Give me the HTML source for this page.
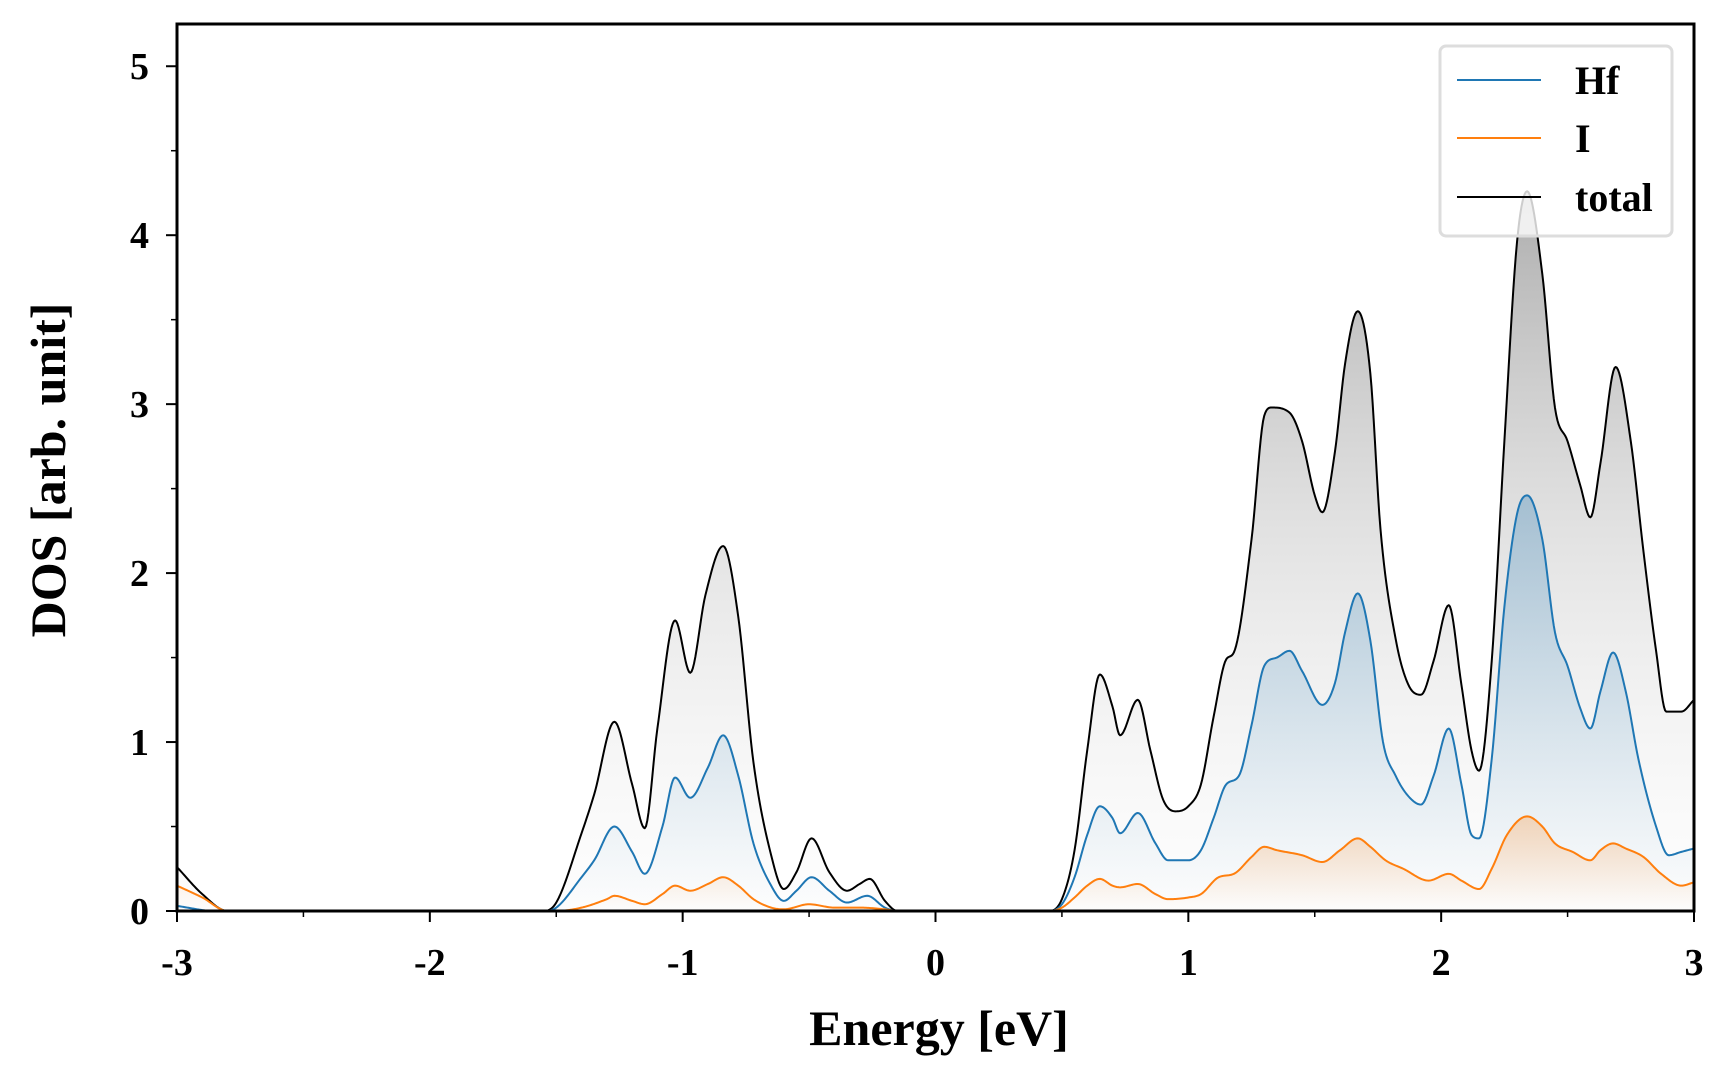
<!DOCTYPE html>
<html><head><meta charset="utf-8"><style>
html,body{margin:0;padding:0;background:#fff}
svg{display:block}
text{font-family:"Liberation Serif",serif;font-weight:bold;fill:#000}
</style></head><body>
<svg id="chart" width="1728" height="1080" xmlns="http://www.w3.org/2000/svg">
<defs>
<linearGradient id="gTot" gradientUnits="userSpaceOnUse" x1="0" y1="193" x2="0" y2="911"><stop offset="0" stop-color="#999" stop-opacity="0.8"/><stop offset="1" stop-color="#eee" stop-opacity="0.1"/></linearGradient>
<linearGradient id="gHf" gradientUnits="userSpaceOnUse" x1="0" y1="497" x2="0" y2="911"><stop offset="0" stop-color="#1f77b4" stop-opacity="0.3"/><stop offset="1" stop-color="#1f77b4" stop-opacity="0.0"/></linearGradient>
<linearGradient id="gI" gradientUnits="userSpaceOnUse" x1="0" y1="820" x2="0" y2="911"><stop offset="0" stop-color="#ff7f0e" stop-opacity="0.25"/><stop offset="1" stop-color="#ff7f0e" stop-opacity="0.0"/></linearGradient>
<clipPath id="plotClip"><rect x="177" y="24" width="1517" height="887"/></clipPath>
</defs>
<g id="fills" clip-path="url(#plotClip)"></g>
<g id="lines" clip-path="url(#plotClip)"></g>
<g id="axes"></g>
<g id="legend">
<rect x="1440" y="46" width="232" height="190" rx="6" fill="#fff" fill-opacity="0.8" stroke="#ddd" stroke-width="3"/>
<line x1="1457" y1="80" x2="1541" y2="80" stroke="#1f77b4" stroke-width="2"/>
<text x="1575" y="94" font-size="40">Hf</text>
<line x1="1457" y1="138" x2="1541" y2="138" stroke="#ff7f0e" stroke-width="2"/>
<text x="1575" y="152" font-size="40">I</text>
<line x1="1457" y1="197" x2="1541" y2="197" stroke="#000" stroke-width="2"/>
<text x="1575" y="211" font-size="40">total</text>
</g>
<text x="939" y="1045" font-size="50" text-anchor="middle">Energy [eV]</text>
<text x="0" y="0" font-size="50" text-anchor="middle" transform="translate(65,470) rotate(-90)">DOS [arb. unit]</text>
</svg>
<script>
const totE=[-3,-2.9,-2.8,-1.55,-1.5,-1.4,-1.35,-1.27,-1.2,-1.15,-1.1,-1.03,-0.97,-0.91,-0.84,-0.78,-0.72,-0.65,-0.6,-0.55,-0.49,-0.42,-0.35,-0.3,-0.26,-0.2,-0.15,0.45,0.5,0.55,0.6,0.65,0.7,0.73,0.8,0.85,0.9,0.95,1.0,1.05,1.1,1.15,1.18,1.25,1.3,1.33,1.4,1.45,1.5,1.53,1.58,1.62,1.67,1.72,1.76,1.82,1.87,1.92,1.97,2.03,2.08,2.12,2.15,2.2,2.25,2.3,2.34,2.4,2.45,2.5,2.55,2.59,2.63,2.69,2.75,2.8,2.85,2.89,2.95,3.0];
const totV=[0.26,0.1,0,0,0.05,0.46,0.69,1.12,0.75,0.49,1.08,1.72,1.41,1.87,2.16,1.74,0.88,0.33,0.13,0.23,0.43,0.23,0.12,0.16,0.19,0.06,0,0,0.07,0.36,0.95,1.4,1.21,1.04,1.25,0.95,0.66,0.59,0.62,0.75,1.15,1.49,1.53,2.2,2.93,2.98,2.95,2.78,2.46,2.36,2.72,3.24,3.55,3.18,2.26,1.61,1.34,1.28,1.48,1.81,1.34,0.95,0.83,1.48,2.78,3.96,4.26,3.77,2.98,2.78,2.52,2.33,2.65,3.22,2.78,2.13,1.54,1.18,1.18,1.25];
const hfE=[-3,-2.85,-1.55,-1.5,-1.4,-1.35,-1.27,-1.2,-1.15,-1.08,-1.03,-0.97,-0.9,-0.84,-0.78,-0.72,-0.65,-0.6,-0.55,-0.49,-0.42,-0.35,-0.27,-0.2,-0.15,0.45,0.5,0.55,0.6,0.65,0.7,0.73,0.8,0.87,0.92,1.0,1.05,1.1,1.15,1.2,1.25,1.3,1.35,1.4,1.45,1.53,1.58,1.62,1.67,1.72,1.77,1.82,1.87,1.92,1.97,2.03,2.08,2.12,2.15,2.2,2.25,2.3,2.34,2.4,2.45,2.5,2.55,2.59,2.63,2.68,2.73,2.78,2.85,2.9,2.95,3.0];
const hfV=[0.03,0,0,0.02,0.2,0.3,0.5,0.35,0.22,0.5,0.79,0.67,0.85,1.04,0.8,0.4,0.15,0.06,0.12,0.2,0.12,0.05,0.09,0.02,0,0,0.04,0.2,0.45,0.62,0.55,0.46,0.58,0.4,0.3,0.3,0.36,0.55,0.75,0.8,1.1,1.45,1.5,1.54,1.42,1.22,1.35,1.65,1.88,1.6,1.0,0.8,0.68,0.63,0.8,1.08,0.75,0.45,0.43,0.9,1.8,2.35,2.46,2.2,1.65,1.45,1.2,1.08,1.3,1.53,1.3,0.9,0.5,0.33,0.35,0.37];
const iE=[-3,-2.9,-2.8,-1.5,-1.4,-1.3,-1.27,-1.2,-1.15,-1.08,-1.03,-0.97,-0.9,-0.84,-0.78,-0.72,-0.65,-0.6,-0.5,-0.4,-0.3,-0.2,-0.15,0.45,0.5,0.55,0.6,0.65,0.7,0.73,0.8,0.87,0.92,1.0,1.05,1.12,1.18,1.25,1.3,1.35,1.45,1.53,1.6,1.67,1.72,1.78,1.85,1.95,2.03,2.08,2.15,2.2,2.26,2.34,2.4,2.45,2.52,2.59,2.63,2.68,2.73,2.8,2.87,2.95,3.0];
const iV=[0.15,0.08,0,0,0.02,0.07,0.09,0.06,0.04,0.1,0.15,0.12,0.16,0.2,0.15,0.07,0.02,0.01,0.04,0.02,0.02,0.01,0,0,0.02,0.08,0.15,0.19,0.15,0.14,0.16,0.1,0.07,0.08,0.1,0.2,0.22,0.32,0.38,0.36,0.33,0.29,0.36,0.43,0.38,0.3,0.25,0.18,0.22,0.18,0.13,0.25,0.45,0.56,0.5,0.4,0.35,0.3,0.36,0.4,0.37,0.32,0.22,0.15,0.17];
const xTicks=[-3,-2,-1,0,1,2,3];
const xTickLabels=["-3","-2","-1","0","1","2","3"];
const yTicks=[0,1,2,3,4,5];
const yTickLabels=["0","1","2","3","4","5"];

const X0=177,X1=1694,Y0=911,Y1=24,XMIN=-3,XMAX=3,YMIN=0,YMAX=5.25;
function sx(v){return X0+(v-XMIN)/(XMAX-XMIN)*(X1-X0);}
function sy(v){return Y0-(v-YMIN)/(YMAX-YMIN)*(Y0-Y1);}
const NS='http://www.w3.org/2000/svg';
function smooth(E,V){
  const n=E.length,d=[],m=new Array(n);
  for(let i=0;i<n-1;i++)d.push((V[i+1]-V[i])/(E[i+1]-E[i]));
  m[0]=d[0];m[n-1]=d[n-2];
  for(let i=1;i<n-1;i++){m[i]=(d[i-1]*d[i]<=0)?0:(d[i-1]+d[i])/2;}
  for(let i=0;i<n-1;i++){
    if(d[i]===0){m[i]=0;m[i+1]=0;continue;}
    const a=m[i]/d[i],b=m[i+1]/d[i],s=a*a+b*b;
    if(s>9){const t=3/Math.sqrt(s);m[i]=t*a*d[i];m[i+1]=t*b*d[i];}
  }
  let path='M'+sx(E[0]).toFixed(2)+','+sy(V[0]).toFixed(2);
  for(let i=0;i<n-1;i++){
    const h=E[i+1]-E[i],steps=Math.max(2,Math.ceil(h/0.005));
    for(let k=1;k<=steps;k++){
      const t=k/steps,t2=t*t,t3=t2*t;
      const y=(2*t3-3*t2+1)*V[i]+(t3-2*t2+t)*h*m[i]+(-2*t3+3*t2)*V[i+1]+(t3-t2)*h*m[i+1];
      path+=' L'+sx(E[i]+t*h).toFixed(2)+','+sy(Math.max(0,y)).toFixed(2);
    }
  }
  return path;
}
const fills=document.getElementById('fills'),lines=document.getElementById('lines'),axes=document.getElementById('axes');
function series(E,V,color,grad,name){
  const d=smooth(E,V);
  const f=document.createElementNS(NS,'path');
  f.setAttribute('d',d+' L'+sx(E[E.length-1])+','+Y0+' L'+sx(E[0])+','+Y0+' Z');
  f.setAttribute('fill','url(#'+grad+')');
  
  
  fills.appendChild(f);
  const l=document.createElementNS(NS,'path');
  l.setAttribute('d',d);l.setAttribute('fill','none');l.setAttribute('stroke',color);l.setAttribute('stroke-width','2');
  l.setAttribute('stroke-linejoin','round');
  
  
  lines.appendChild(l);
}
series(totE,totV,'#000','gTot','total');
series(hfE,hfV,'#1f77b4','gHf','hf');
series(iE,iV,'#ff7f0e','gI','i');
function mk(tag,attrs){const e=document.createElementNS(NS,tag);for(const k in attrs)e.setAttribute(k,attrs[k]);axes.appendChild(e);return e;}
const frame=mk('rect',{x:X0,y:Y1,width:X1-X0,height:Y0-Y1,fill:'none',stroke:'#000','stroke-width':3});


xTicks.forEach((t,i)=>{
  const tk=mk('line',{x1:sx(t),x2:sx(t),y1:Y0,y2:Y0+11,stroke:'#000','stroke-width':2});
  
  
  const tx=mk('text',{x:sx(t),y:Y0+64,'font-size':38,'text-anchor':'middle'});tx.textContent=xTickLabels[i];
  
  
  if(i<xTicks.length-1){const m=mk('line',{x1:sx(t+0.5),x2:sx(t+0.5),y1:Y0,y2:Y0+6,stroke:'#000','stroke-width':1.5});
  
  }
});
yTicks.forEach((t,i)=>{
  const tk=mk('line',{x1:X0-11,x2:X0,y1:sy(t),y2:sy(t),stroke:'#000','stroke-width':2});
  
  
  const tx=mk('text',{x:X0-28,y:sy(t)+13,'font-size':38,'text-anchor':'end'});tx.textContent=yTickLabels[i];
  
  
  const m=mk('line',{x1:X0-6,x2:X0,y1:sy(t+0.5),y2:sy(t+0.5),stroke:'#000','stroke-width':1.5});
  
  
});
</script>
</body></html>
